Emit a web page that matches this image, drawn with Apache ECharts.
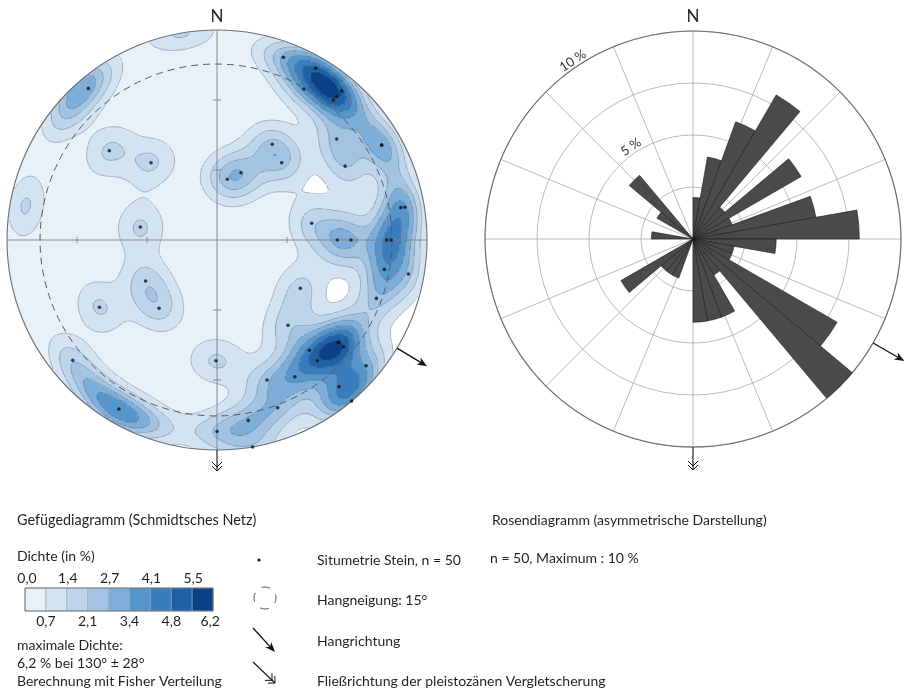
<!DOCTYPE html>
<html>
<head>
<meta charset="utf-8">
<script src="https://cdn.jsdelivr.net/npm/echarts@6/dist/echarts.min.js"></script>
<style>
  html, body { margin: 0; padding: 0; background: #ffffff; }
  #chart { width: 906px; height: 693px; }
</style>
</head>
<body>
<div id="chart"></div>
<script>
// Stone orientations plotted on the equal-area (Schmidt) net, lower hemisphere.
// Coordinates are in net units (radius 1): east and north.
// The last two stones share their position with stones listed earlier.
const stoneEast = [-0.613, -0.513, -0.314, -0.365, 0.316, 0.470, 0.414, 0.594, 0.570, 0.554,
  0.570, 0.784, 0.610, 0.263, 0.308, 0.114, 0.049, 0.875, 0.895, 0.451,
  0.573, 0.638, 0.808, 0.829, 0.797, 0.911, 0.759, 0.397, 0.338, 0.578,
  0.603, 0.440, 0.478, 0.710, 0.238, 0.371, 0.581, 0.641, 0.289, 0.149,
  0.000, 0.170, -0.340, -0.276, -0.560, -0.687, -0.467, -0.005, 0.578, 0.784];
const stoneNorth = [0.722, 0.425, 0.368, 0.062, 0.870, 0.818, 0.719, 0.710, 0.682, 0.667,
  0.481, 0.452, 0.352, 0.456, 0.368, 0.320, 0.289, 0.154, 0.156, 0.080,
  0.000, 0.000, 0.000, 0.000, -0.140, -0.162, -0.278, -0.230, -0.406, -0.487,
  -0.508, -0.525, -0.575, -0.599, -0.667, -0.651, -0.699, -0.767, -0.799, -0.859,
  -0.912, -0.986, -0.195, -0.325, -0.320, -0.573, -0.805, -0.575, -0.487, 0.452];

// Density classes (in %) and their fill colours
const densityLevels = [0.0, 0.7, 1.4, 2.1, 2.7, 3.4, 4.1, 4.8, 5.5, 6.2];
const densityLabels = ['0,0', '0,7', '1,4', '2,1', '2,7', '3,4', '4,1', '4,8', '5,5', '6,2'];
const densityColors = ['#e8f0f8', '#d4e3f1', '#bdd4ea', '#a2c4e2', '#7eafd9', '#5796cb', '#3a7dbd', '#1f61a7', '#0c4188'];
const densityMax = 6.2;        // maximum density (%)
const fisherKappa = 65;        // concentration of the Fisher kernel
const wrapPlunge = 9.5;        // stones flatter than this also count on the opposite rim
const slopeCircleRadius = 0.838; // dashed circle for the 15° slope, net units
const slopeAzimuth = 121;      // slope direction (degrees from north)

// Rose diagram: 10° sectors clockwise from north, percent of stones
const roseSectors = ['0–10°', '10–20°', '20–30°', '30–40°', '40–50°', '50–60°', '60–70°', '70–80°', '80–90°',
  '90–100°', '100–110°', '110–120°', '120–130°', '130–140°', '140–150°', '150–160°', '160–170°', '170–180°',
  '180–190°', '190–200°', '200–210°', '210–220°', '220–230°', '230–240°', '240–250°', '250–260°', '260–270°',
  '270–280°', '280–290°', '290–300°', '300–310°', '310–320°', '320–330°', '330–340°', '340–350°', '350–360°'];
const rosePercent = [2, 4, 6, 8, 2, 6, 2, 6, 8, 4, 2, 2, 8, 10, 2, 4, 4, 4,
  0, 0, 2, 2, 2, 4, 0, 0, 0, 2, 0, 0, 2, 4, 0, 0, 0, 0];
const roseMax = 10;

// ---- layout ----
const CX = 217, CY = 240, R = 210;   // stereonet
const RX = 693, RY = 239, RR = 208;  // rose diagram
const N = 210;                       // density grid cells per side
const FONT = 'Lato, "Open Sans", "DejaVu Sans", sans-serif';

// ---- density from a Fisher kernel on the sphere ----
function netToVec(x, y) {
  let r = Math.hypot(x, y);
  if (r > 1) { x /= r; y /= r; r = 1; }
  const tc = 2 * Math.asin(r / Math.SQRT2);
  const h = r > 0 ? Math.sin(tc) / r : 0;
  return [x * h, y * h, Math.cos(tc)];
}
const wrapRadius = Math.SQRT2 * Math.sin((90 - wrapPlunge) / 2 * Math.PI / 180);
const kernelVecs = [];
stoneEast.forEach((e, i) => {
  const n = stoneNorth[i];
  kernelVecs.push(netToVec(e, n));
  if (Math.hypot(e, n) > wrapRadius) kernelVecs.push(netToVec(-e, -n));
});
const cellSize = 2 / N;
const cellCoord = i => -1 + (i + 0.5) * cellSize;

const raw = new Float64Array(N * N);
const inside = new Uint8Array(N * N);
let rawMax = 0;
for (let j = 0; j < N; j++) {
  for (let i = 0; i < N; i++) {
    const x = cellCoord(i), y = cellCoord(j);
    const r = Math.hypot(x, y);
    const v = netToVec(x, y);
    let s = 0;
    for (const p of kernelVecs) {
      const d = v[0] * p[0] + v[1] * p[1] + v[2] * p[2];
      s += Math.exp(fisherKappa * (d - 1));
    }
    raw[j * N + i] = s;
    if (r <= 1.012) inside[j * N + i] = 1;
    if (r <= 1 && s > rawMax) rawMax = s;
  }
}
const scale = densityMax / rawMax;
const dens = raw.map(v => v * scale);

// low-density pockets enclosed by higher classes stay unfilled (white)
const comp = new Int32Array(N * N).fill(-1);
const compSize = [];
for (let k = 0; k < N * N; k++) {
  if (!inside[k] || dens[k] >= densityLevels[1] || comp[k] >= 0) continue;
  const id = compSize.length; let size = 0;
  const stack = [k]; comp[k] = id;
  while (stack.length) {
    const c = stack.pop(); size++;
    const ci = c % N, cj = (c - ci) / N;
    const nb = [[ci + 1, cj], [ci - 1, cj], [ci, cj + 1], [ci, cj - 1]];
    for (const [ni, nj] of nb) {
      if (ni < 0 || nj < 0 || ni >= N || nj >= N) continue;
      const q = nj * N + ni;
      if (inside[q] && dens[q] < densityLevels[1] && comp[q] < 0) { comp[q] = id; stack.push(q); }
    }
  }
  compSize.push(size);
}
let mainComp = 0;
compSize.forEach((s, id) => { if (s > compSize[mainComp]) mainComp = id; });

const heatData = [];
for (let j = 0; j < N; j++) {
  for (let i = 0; i < N; i++) {
    const k = j * N + i;
    if (!inside[k]) continue;
    const hole = comp[k] >= 0 && comp[k] !== mainComp;
    heatData.push([i, j, hole ? -1 : +dens[k].toFixed(3)]);
  }
}

// ---- contour lines (marching squares on the cell centres) ----
function contourSegments(level) {
  const out = [];
  for (let j = 0; j < N - 1; j++) {
    for (let i = 0; i < N - 1; i++) {
      const k00 = j * N + i, k10 = k00 + 1, k01 = k00 + N, k11 = k01 + 1;
      const x0 = cellCoord(i), x1 = cellCoord(i + 1), y0 = cellCoord(j), y1 = cellCoord(j + 1);
      if (Math.hypot(x0, y0) > 1 || Math.hypot(x1, y0) > 1 || Math.hypot(x0, y1) > 1 || Math.hypot(x1, y1) > 1) continue;
      const v00 = dens[k00], v10 = dens[k10], v01 = dens[k01], v11 = dens[k11];
      const b00 = v00 >= level, b10 = v10 >= level, b01 = v01 >= level, b11 = v11 >= level;
      if (b00 === b10 && b00 === b01 && b00 === b11) continue;
      const lerp = (a, b, va, vb) => a + (b - a) * (level - va) / (vb - va);
      const e = [];
      e[0] = b00 !== b10 ? [lerp(x0, x1, v00, v10), y0] : null;  // bottom
      e[1] = b10 !== b11 ? [x1, lerp(y0, y1, v10, v11)] : null;  // right
      e[2] = b01 !== b11 ? [lerp(x0, x1, v01, v11), y1] : null;  // top
      e[3] = b00 !== b01 ? [x0, lerp(y0, y1, v00, v01)] : null;  // left
      const pts = e.filter(Boolean);
      if (pts.length === 2) {
        out.push(pts[0], pts[1], ['-', '-']);
      } else if (pts.length === 4) {
        const centre = (v00 + v10 + v01 + v11) / 4 >= level;
        if (centre === b00) out.push(e[0], e[1], ['-', '-'], e[2], e[3], ['-', '-']);
        else out.push(e[0], e[3], ['-', '-'], e[1], e[2], ['-', '-']);
      }
    }
  }
  return out;
}
const contourSeries = densityLevels.slice(1, 9).map(level => ({
  type: 'line', xAxisIndex: 1, yAxisIndex: 1, z: 3,
  data: contourSegments(level), symbol: 'none', silent: true, connectNulls: false,
  clip: false, animation: false,
  lineStyle: { color: 'rgba(95,105,120,0.6)', width: 0.7 }
}));

// ---- graphic helpers ----
const graphics = [];
function text(x, y, str, o = {}) {
  graphics.push({
    type: 'text', x, y, rotation: o.rot || 0, z: 40, silent: true,
    style: { text: str, x: 0, y: 0, fill: o.color || '#231f20', font: (o.size || 14) + 'px ' + FONT,
      textAlign: o.align || 'left', textVerticalAlign: o.valign || 'middle' }
  });
}
function line(x1, y1, x2, y2, color, w, z, dash) {
  graphics.push({ type: 'line', z, silent: true, shape: { x1, y1, x2, y2 },
    style: { stroke: color, lineWidth: w, lineDash: dash || null } });
}
function arrow(x1, y1, x2, y2) {
  const len = Math.hypot(x2 - x1, y2 - y1), ux = (x2 - x1) / len, uy = (y2 - y1) / len;
  const nx = -uy, ny = ux, L = 10, W = 4;
  line(x1, y1, x2 - ux * 6, y2 - uy * 6, '#111', 1.3, 35);
  graphics.push({ type: 'polygon', z: 35, silent: true,
    shape: { points: [[x2, y2], [x2 - ux * L + nx * W, y2 - uy * L + ny * W], [x2 - ux * 7, y2 - uy * 7], [x2 - ux * L - nx * W, y2 - uy * L - ny * W]] },
    style: { fill: '#111' } });
}
function flowArrow(x1, y1, x2, y2) {
  const len = Math.hypot(x2 - x1, y2 - y1), ux = (x2 - x1) / len, uy = (y2 - y1) / len;
  const nx = -uy, ny = ux, L = 5, W = 5;
  line(x1, y1, x2, y2, '#111', 1.1, 35);
  [0, 4].forEach(back => {
    const tx = x2 - ux * back, ty = y2 - uy * back;
    graphics.push({ type: 'polyline', z: 35, silent: true,
      shape: { points: [[tx - ux * L + nx * W, ty - uy * L + ny * W], [tx, ty], [tx - ux * L - nx * W, ty - uy * L - ny * W]] },
      style: { stroke: '#111', lineWidth: 1, fill: null } });
  });
}
const polarPt = (cx, cy, r, az) => [cx + r * Math.sin(az * Math.PI / 180), cy - r * Math.cos(az * Math.PI / 180)];

// ---- stereonet frame ----
graphics.push({ type: 'circle', z: 10, silent: true, shape: { cx: CX, cy: CY, r: R + 6 },
  style: { fill: 'none', stroke: '#ffffff', lineWidth: 12 } });
graphics.push({ type: 'circle', z: 11, silent: true, shape: { cx: CX, cy: CY, r: R },
  style: { fill: 'none', stroke: '#6d6e70', lineWidth: 1.1 } });
graphics.push({ type: 'circle', z: 8, silent: true, shape: { cx: CX - 1, cy: CY, r: R * slopeCircleRadius },
  style: { fill: 'none', stroke: '#58595b', lineWidth: 1, lineDash: [7, 5] } });
line(CX - R, CY, CX + R, CY, '#7d8088', 0.9, 7);
line(CX, CY - R, CX, CY + R, '#7d8088', 0.9, 7);
[1 / 3, 2 / 3].forEach(f => {
  const d = f * R;
  line(CX - d, CY - 3, CX - d, CY + 3, '#7d8088', 0.9, 7);
  line(CX + d, CY - 3, CX + d, CY + 3, '#7d8088', 0.9, 7);
  line(CX - 4, CY - d, CX + 4, CY - d, '#7d8088', 0.9, 7);
  line(CX - 4, CY + d, CX + 4, CY + d, '#7d8088', 0.9, 7);
});
text(CX, 17, 'N', { size: 17, align: 'center' });
flowArrow(CX, CY + R, CX, CY + R + 21);
{
  const a = polarPt(CX, CY, R, slopeAzimuth), b = polarPt(CX, CY, R + 35, slopeAzimuth);
  arrow(a[0], a[1], b[0], b[1]);
}

// ---- rose frame ----
text(RX, 17, 'N', { size: 17, align: 'center' });
flowArrow(RX, RY + RR, RX, RY + RR + 23);
{
  const a = polarPt(RX, RY, RR, slopeAzimuth - 1), b = polarPt(RX, RY, RR + 36, slopeAzimuth - 1);
  arrow(a[0], a[1], b[0], b[1]);
}
[[10, '10 %'], [5, '5 %']].forEach(([v, s]) => {
  const az = -34, p = polarPt(RX, RY, RR * v / roseMax + 7, az);
  text(p[0], p[1], s, { size: 13, align: 'center', rot: -az * Math.PI / 180, color: '#333' });
});

// ---- legend ----
text(17, 520, 'Gefügediagramm (Schmidtsches Netz)', { size: 14.4 });
text(17, 556, 'Dichte (in %)');
const barX = 25, barY = 588, cellW = 20.9, barH = 23;
densityColors.forEach((c, i) => {
  graphics.push({ type: 'rect', z: 30, silent: true,
    shape: { x: barX + i * cellW, y: barY, width: cellW, height: barH },
    style: { fill: c, stroke: '#9aa4ae', lineWidth: 0.6 } });
});
graphics.push({ type: 'rect', z: 31, silent: true,
  shape: { x: barX, y: barY, width: cellW * 9, height: barH },
  style: { fill: 'none', stroke: '#6d6e70', lineWidth: 0.9 } });
densityLabels.forEach((s, i) => {
  const x = barX + i * cellW;
  if (i % 2 === 0) text(x + (i === 0 ? 2 : 1), 578, s, { align: 'center' });
  else text(x + (i === 9 ? -3 : 0), 621, s, { align: 'center' });
});
text(17, 645, 'maximale Dichte:');
text(17, 663, '6,2 % bei 130° ± 28°');
text(17, 681, 'Berechnung mit Fisher Verteilung');

graphics.push({ type: 'circle', z: 30, silent: true, shape: { cx: 259, cy: 560, r: 1.6 }, style: { fill: '#111' } });
text(317, 560, 'Situmetrie Stein, n = 50');
graphics.push({ type: 'circle', z: 30, silent: true, shape: { cx: 265, cy: 598, r: 11 },
  style: { fill: 'none', stroke: '#58595b', lineWidth: 1, lineDash: [9, 8.3], lineDashOffset: 4 } });
text(317, 600, 'Hangneigung: 15°');
arrow(253, 628, 275, 652);
text(317, 641, 'Hangrichtung');
flowArrow(253, 662, 275, 683);
text(317, 681, 'Fließrichtung der pleistozänen Vergletscherung');
text(492, 520, 'Rosendiagramm (asymmetrische Darstellung)');
text(490, 558, 'n = 50, Maximum : 10 %');

// ---- chart ----
const hiddenAxis = { show: false };
const chart = echarts.init(document.getElementById('chart'), null, { renderer: 'canvas' });
const cats = Array.from({ length: N }, (_, i) => i);
chart.setOption({
  animation: false,
  backgroundColor: '#ffffff',
  grid: [
    { left: CX - R, top: CY - R, width: 2 * R, height: 2 * R },
    { left: CX - R, top: CY - R, width: 2 * R, height: 2 * R }
  ],
  xAxis: [
    { gridIndex: 0, type: 'category', data: cats, ...hiddenAxis },
    { gridIndex: 1, type: 'value', min: -1, max: 1, ...hiddenAxis }
  ],
  yAxis: [
    { gridIndex: 0, type: 'category', data: cats, ...hiddenAxis },
    { gridIndex: 1, type: 'value', min: -1, max: 1, ...hiddenAxis }
  ],
  polar: [
    { center: [RX, RY], radius: RR },
    { center: [RX, RY], radius: RR }
  ],
  angleAxis: [
    { polarIndex: 0, type: 'value', min: 0, max: 360, interval: 22.5, startAngle: 90, clockwise: true,
      axisLine: { lineStyle: { color: '#6d6e70', width: 1.1 } }, axisTick: { show: false }, axisLabel: { show: false },
      splitLine: { show: true, lineStyle: { color: '#a7a9ac', width: 0.8 } } },
    { polarIndex: 1, type: 'category', data: roseSectors, startAngle: 90, clockwise: true,
      axisLine: { show: false }, axisTick: { show: false }, axisLabel: { show: false }, splitLine: { show: false } }
  ],
  radiusAxis: [
    { polarIndex: 0, type: 'value', min: 0, max: roseMax, interval: 2.5,
      axisLine: { show: false }, axisTick: { show: false }, axisLabel: { show: false },
      splitLine: { show: true, lineStyle: { color: '#a7a9ac', width: 0.8 } } },
    { polarIndex: 1, type: 'value', min: 0, max: roseMax, show: false }
  ],
  visualMap: {
    type: 'piecewise', show: false, seriesIndex: 0, dimension: 2,
    pieces: [{ lt: 0, color: '#ffffff' }].concat(densityColors.map((c, i) => (
      i < densityColors.length - 1
        ? { gte: densityLevels[i], lt: densityLevels[i + 1], color: c }
        : { gte: densityLevels[i], color: c })))
  },
  series: [
    { type: 'heatmap', xAxisIndex: 0, yAxisIndex: 0, data: heatData, z: 1,
      progressive: 0, silent: true, emphasis: { disabled: true } },
    ...contourSeries,
    { type: 'scatter', xAxisIndex: 1, yAxisIndex: 1, z: 20, silent: true,
      data: stoneEast.map((e, i) => [e, stoneNorth[i]]),
      symbolSize: 3.6, itemStyle: { color: '#111111' } },
    { type: 'bar', coordinateSystem: 'polar', polarIndex: 1, z: 5, silent: true,
      data: rosePercent.map(v => (v > 0 ? v : '-')),
      barCategoryGap: '0%', barGap: '0%',
      itemStyle: { color: '#4a4a4a', borderColor: '#1a1a1a', borderWidth: 0.6 } }
  ],
  graphic: { elements: graphics }
});
</script>
</body>
</html>
